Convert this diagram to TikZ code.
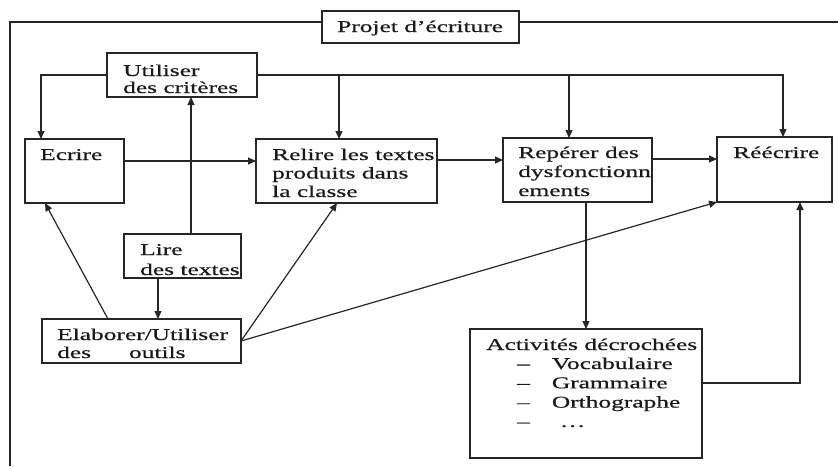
\documentclass[tikz,border=0pt]{standalone}
\usepackage{fontspec}
\setmainfont{Liberation Serif}[FakeStretch=1.54,FakeBold=0.6]
\usetikzlibrary{arrows.meta}
\newcommand\mlines[2]{{\fontsize{16.5}{#1}\selectfont\begin{tabular}[t]{@{}l@{}}#2\end{tabular}}}
\begin{document}
\begin{tikzpicture}[x=1pt,y=-1pt,
  boxn/.style={draw=black!85, line width=1.2pt, anchor=north west, inner sep=0pt, outer sep=0pt},
  conn/.style={draw=black!85, line width=1.2pt},
  arr/.style={conn, -{Triangle[length=8pt,width=7pt]}},
  txt/.style={anchor=base west, inner sep=0pt, text=black!90, font=\fontsize{16.5}{19}\selectfont}]
\useasboundingbox (0,0) rectangle (838,466);
% boxes
\node[boxn, minimum width=197pt, minimum height=32pt] (projet) at (322,11) {};
\node[boxn, minimum width=150pt, minimum height=44pt] (crit) at (107,53) {};
\node[boxn, minimum width=99pt, minimum height=64pt] (ecrire) at (25,139) {};
\node[boxn, minimum width=181pt, minimum height=64pt] (relire) at (256,139) {};
\node[boxn, minimum width=149pt, minimum height=64pt] (reperer) at (503,138) {};
\node[boxn, minimum width=115pt, minimum height=65pt] (reecrire) at (717,137) {};
\node[boxn, minimum width=117pt, minimum height=44pt] (lire) at (124,234) {};
\node[boxn, minimum width=199pt, minimum height=44pt] (elab) at (42,319) {};
\node[boxn, minimum width=232pt, minimum height=129pt] (activ) at (470,329) {};
% texts
\node[txt] (tprojet) at (337,32) {Projet d’écriture};
\node[txt] (tcrit) at (123,76) {\mlines{17pt}{Utiliser\\des critères}};
\node[txt] (tecrire) at (40,160) {Ecrire};
\node[txt] (trelire) at (272,160) {\mlines{18.5pt}{Relire les textes\\produits dans\\la classe}};
\node[txt] (treperer) at (518,158) {\mlines{19pt}{Repérer des\\dysfonctionn\\ements}};
\node[txt] (treecrire) at (733,158) {Réécrire};
\node[txt] (tlire) at (140,255) {\mlines{20pt}{Lire\\des textes}};
\node[txt] (telab) at (57,340) {\mlines{18pt}{Elaborer/Utiliser\\des\hspace{38pt}outils}};
\node[txt] (tactiv) at (486,350) {Activités décrochées};
\node[txt] (tlist) at (517,369) {{\fontsize{16.5}{19.3pt}\selectfont\begin{tabular}[t]{@{}l@{\hspace{22pt}}l@{}}–&Vocabulaire\\–&Grammaire\\–&Orthographe\\–&\hspace{8pt}\ldots\end{tabular}}};
% frame
\coordinate (fbl) at (10,466);
\coordinate (fr) at (838,22);
\coordinate (pw) at ([yshift=5pt]projet.west);
\coordinate (pe) at ([yshift=5pt]projet.east);
\draw[conn] (pw) -| (fbl);
\draw[conn] (pe) -- (fr |- pe);
% connectors
\coordinate (rl) at ([xshift=83pt]relire.north west);
\coordinate (rp) at ([xshift=66pt]reperer.north west);
\draw[arr] (crit.west) -| ([xshift=16pt]ecrire.north west);
\draw[arr] (crit.east) -| ([xshift=66pt]reecrire.north west);
\draw[arr] (rl |- crit.east) -- (rl);
\draw[arr] (rp |- crit.east) -- (rp);
\coordinate (e1) at ([yshift=-22pt]ecrire.north east);
\draw[arr] (e1) -- (e1 -| relire.west);
\coordinate (r1) at ([yshift=-21pt]relire.north east);
\draw[arr] (r1) -- (r1 -| reperer.west);
\coordinate (p1) at ([yshift=-21pt]reperer.north east);
\draw[arr] (p1) -- (p1 -| reecrire.west);
\coordinate (l1) at ([xshift=67pt]lire.north west);
\draw[arr] (l1) -- (l1 |- crit.south);
\coordinate (l2) at ([xshift=34pt]lire.south west);
\draw[arr] (l2) -- (l2 |- elab.north);
\draw[arr] ([xshift=66pt]elab.north west) -- ([xshift=20pt]ecrire.south west);
\draw[arr] (elab.east) -- ([xshift=81pt]relire.south west);
\draw[arr] (elab.east) -- (reecrire.south west);
\draw[arr] (activ.north |- reperer.south) -- (activ.north);
\coordinate (a1) at ([yshift=10.5pt]activ.east);
\coordinate (rr) at ([xshift=83pt]reecrire.south west);
\draw[arr] (a1) -| (rr);
\end{tikzpicture}
\end{document}
